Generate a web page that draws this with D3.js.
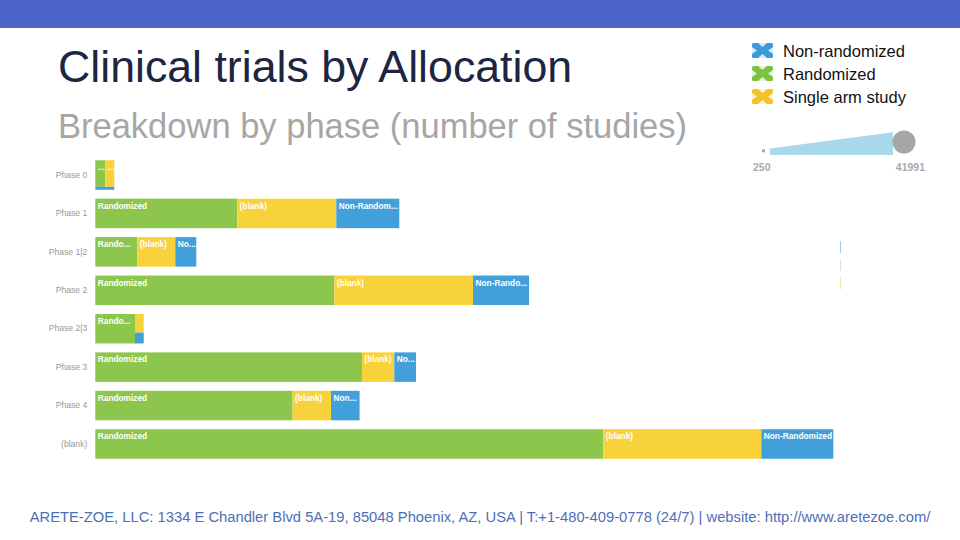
<!DOCTYPE html>
<html>
<head>
<meta charset="utf-8">
<script src="https://cdn.jsdelivr.net/npm/d3@7"></script>
<style>
  body { margin: 0; background: #fff; }
  svg { display: block; font-family: Arial, "Liberation Sans", sans-serif; }
</style>
</head>
<body>
<script>
// data: number of studies per phase and allocation
var phases = ["Phase 0", "Phase 1", "Phase 1|2", "Phase 2", "Phase 2|3", "Phase 3", "Phase 4", "(blank)"];
var randomized    = [512, 8080, 2390, 13600, 2259, 15175, 11226, 28905];
var blankAlloc    = [461, 5633, 2162, 7892, 313, 1838, 2185, 8990];
var nonRandomized = [108, 3585, 1195, 3186, 182, 1235, 1627, 4097];
var segLabels = ["Randomized", "(blank)", "Non-Randomized"];
var legendLabels = ["Non-randomized", "Randomized", "Single arm study"];
var sizeRange = [250, 41991];

var width = 960, height = 540;
var colors = ["#8cc64d", "#f8d23a", "#41a0d9"];
var legendColors = ["#3c9ad8", "#7cc242", "#f5c327"];

var svg = d3.select("body").append("svg")
	.attr("width", width)
	.attr("height", height);

// top band
svg.append("rect").attr("x", 0).attr("y", 0).attr("width", width).attr("height", 28).attr("fill", "#4b66c8");

svg.append("text").attr("x", 58).attr("y", 82)
	.attr("font-size", 44.7).attr("fill", "#1c2541")
	.text("Clinical trials by Allocation");
svg.append("text").attr("x", 58).attr("y", 138)
	.attr("font-size", 34.5).attr("fill", "#a6a6a6")
	.text("Breakdown by phase (number of studies)");

// scales
var x = d3.scaleLinear().domain([0, 41991]).range([0, 738]);
var y = d3.scaleBand().domain(phases).range([155.8, 463.2]).paddingInner(0.232).paddingOuter(0.116);
var left = 95.3;

var chart = svg.append("g").attr("transform", "translate(" + left + ",0)");

chart.append("g")
	.call(d3.axisLeft(y).tickSize(0).tickPadding(8))
	.call(g => g.select(".domain").remove())
	.selectAll("text")
	.attr("font-size", 8.6).attr("fill", "#999")
	.attr("font-family", "Arial, 'Liberation Sans', sans-serif");

// each bar is a small treemap of its three parts
var treemap = d3.treemap().tile(d3.treemapSquarify).round(false);

phases.forEach(function (p, i) {
	var vals = [randomized[i], blankAlloc[i], nonRandomized[i]];
	var total = d3.sum(vals);
	var root = d3.hierarchy({children: vals.map((v, k) => ({k: k, value: v}))})
		.sum(d => d.value || 0);
	treemap.size([x(total), y.bandwidth()])(root);

	var g = chart.append("g").attr("transform", "translate(0," + y(p) + ")");
	var cells = g.selectAll("g").data(root.leaves()).join("g")
		.attr("transform", d => "translate(" + d.x0 + "," + d.y0 + ")");
	cells.append("rect")
		.attr("width", d => d.x1 - d.x0)
		.attr("height", d => d.y1 - d.y0)
		.attr("fill", d => colors[d.data.k]);

	cells.filter(d => (d.y1 - d.y0) > 15 && (d.x1 - d.x0) >= 9)
		.append("text")
		.attr("x", 2.5).attr("y", 10)
		.attr("font-size", 8.3).attr("font-weight", "bold").attr("fill", "#fff")
		.each(function (d) {
			var t = d3.select(this);
			var avail = d.x1 - d.x0 - 3;
			var s = segLabels[d.data.k];
			t.text(s);
			if (this.getComputedTextLength() <= avail) return;
			for (var n = s.length - 1; n >= 0; n--) {
				t.text(s.slice(0, n) + "...");
				if (this.getComputedTextLength() <= avail || n === 0) break;
			}
		});
});

// faint clipped marks at right
var marks = [[241, 253, "#9cc9ea"], [260, 271, "#dddddd"], [277, 289, "#f5e3a0"]];
svg.selectAll(".mark").data(marks).join("line")
	.attr("x1", 840.5).attr("x2", 840.5)
	.attr("y1", d => d[0]).attr("y2", d => d[1])
	.attr("stroke", d => d[2]).attr("stroke-width", 1);

// legend
var leg = svg.append("g");
legendLabels.forEach(function (l, i) {
	var gy = 43 + i * 23;
	var g = leg.append("g").attr("transform", "translate(752," + gy + ")");
	g.append("rect").attr("width", 21).attr("height", 15).attr("fill", legendColors[i]).attr("rx", 1.5);
	g.append("path")
		.attr("d", "M0,4 L5,7.5 L0,11 Z M21,4 L16,7.5 L21,11 Z M6,0 L10.5,4 L15,0 Z M6,15 L10.5,11 L15,15 Z")
		.attr("fill", "#fff").attr("opacity", 0.8);
	leg.append("text").attr("x", 783).attr("y", gy + 14)
		.attr("font-size", 16.5).attr("fill", "#111").text(l);
});

// size legend
var sz = svg.append("g");
sz.append("rect").attr("x", 762).attr("y", 149.3).attr("width", 3).attr("height", 3).attr("fill", "#a6a6a6");
sz.append("path").attr("d", "M770,155 L770,148.5 L893,132.3 L893,155 Z").attr("fill", "#a8d8ea");
sz.append("circle").attr("cx", 904).attr("cy", 142).attr("r", 11.5).attr("fill", "#a6a6a6");
sz.append("text").attr("x", 753).attr("y", 171).attr("font-size", 10.5).attr("font-weight", "bold")
	.attr("fill", "#aaa").text(sizeRange[0]);
sz.append("text").attr("x", 925).attr("y", 171).attr("text-anchor", "end").attr("font-size", 10.5)
	.attr("font-weight", "bold").attr("fill", "#aaa").text(sizeRange[1]);

// footer
svg.append("text").attr("x", 480).attr("y", 522).attr("text-anchor", "middle")
	.attr("font-size", 14.75).attr("fill", "#4e6fb8")
	.text("ARETE-ZOE, LLC: 1334 E Chandler Blvd 5A-19, 85048 Phoenix, AZ, USA | T:+1-480-409-0778 (24/7) | website: http://www.aretezoe.com/");
</script>
</body>
</html>
